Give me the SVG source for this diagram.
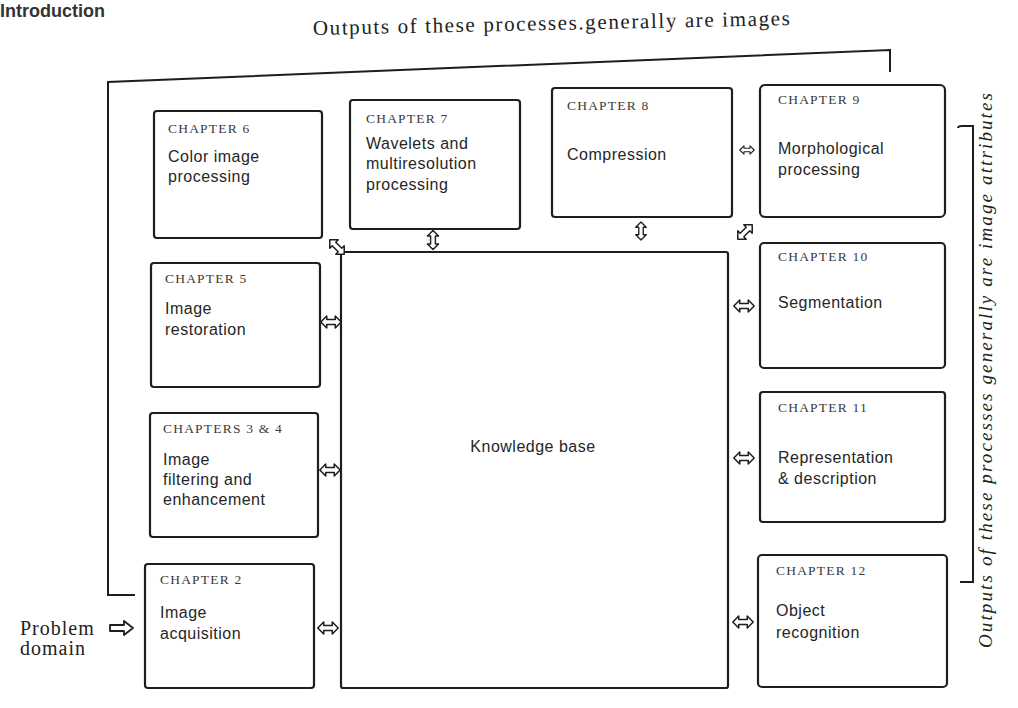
<svg xmlns="http://www.w3.org/2000/svg" width="1018" height="708" viewBox="0 0 1018 708">
  <defs>
    <style>
      .box { fill: #ffffff; stroke: #1e1e1e; stroke-width: 2.2; }
      .chap { font-family: "Liberation Serif", serif; font-size: 13.5px; fill: #3a3a3a; letter-spacing: 1.2px; }
      .lbl { font-family: "Liberation Sans", sans-serif; font-size: 16px; fill: #262626; letter-spacing: 0.5px; }
      .ser { font-family: "Liberation Serif", serif; fill: #222; }
      .brk { fill: none; stroke: #1e1e1e; stroke-width: 2; }
      .arw { fill: #ffffff; stroke: #1e1e1e; stroke-width: 1.8; stroke-linejoin: round; }
    </style>
    <path id="dbl" d="M-12,0 L-5,-7 L-5,-3 L5,-3 L5,-7 L12,0 L5,7 L5,3 L-5,3 L-5,7 Z"/>
    <path id="sgl" d="M-12,-3 L2,-3 L2,-7 L11,0 L2,7 L2,3 L-12,3 Z"/>
  </defs>
  <rect width="1018" height="708" fill="#ffffff"/>

  <text x="0" y="17" font-family="Liberation Sans, sans-serif" font-size="18" font-weight="bold" fill="#333">Introduction</text>

  <g id="brackets">
    <text class="ser" x="313" y="35" font-size="21" textLength="477" lengthAdjust="spacing" transform="rotate(-1.2 313 35)">Outputs of these processes.generally are images</text>
    <path class="brk" d="M135,595 L108,595 L108,82 L890,50 L890,72"/>
    <path class="brk" d="M958,128 Q958,126 962,126 L973,126 L973,582 L960,582"/>
    <text class="ser" x="0" y="0" font-size="19" font-style="italic" textLength="555" lengthAdjust="spacing" transform="translate(992 648) rotate(-90)">Outputs of these processes generally are image attributes</text>
  </g>

  <g id="problem-domain">
    <text class="ser" x="20" y="635" font-size="20" letter-spacing="1">Problem</text>
    <text class="ser" x="20" y="655" font-size="20" letter-spacing="1">domain</text>
  </g>

  <g id="ch6">
    <rect class="box" x="154" y="111" width="168" height="127" rx="3"/>
    <text class="chap" x="168" y="133">CHAPTER 6</text>
    <text class="lbl" x="168" y="162">Color image</text>
    <text class="lbl" x="168" y="182">processing</text>
  </g>
  <g id="ch7">
    <rect class="box" x="350" y="100" width="170" height="129" rx="3"/>
    <text class="chap" x="366" y="123">CHAPTER 7</text>
    <text class="lbl" x="366" y="149">Wavelets and</text>
    <text class="lbl" x="366" y="169">multiresolution</text>
    <text class="lbl" x="366" y="190">processing</text>
  </g>
  <g id="ch8">
    <rect class="box" x="552" y="88" width="180" height="129" rx="3"/>
    <text class="chap" x="567" y="110">CHAPTER 8</text>
    <text class="lbl" x="567" y="160">Compression</text>
  </g>
  <g id="ch9">
    <rect class="box" x="760" y="85" width="185" height="132" rx="5"/>
    <text class="chap" x="778" y="104">CHAPTER 9</text>
    <text class="lbl" x="778" y="154">Morphological</text>
    <text class="lbl" x="778" y="175">processing</text>
  </g>
  <g id="ch5">
    <rect class="box" x="151" y="263" width="169" height="124" rx="3"/>
    <text class="chap" x="165" y="283">CHAPTER 5</text>
    <text class="lbl" x="165" y="314">Image</text>
    <text class="lbl" x="165" y="335">restoration</text>
  </g>
  <g id="ch3-4">
    <rect class="box" x="150" y="413" width="168" height="124" rx="3"/>
    <text class="chap" x="163" y="433">CHAPTERS 3 &amp; 4</text>
    <text class="lbl" x="163" y="465">Image</text>
    <text class="lbl" x="163" y="485">filtering and</text>
    <text class="lbl" x="163" y="505">enhancement</text>
  </g>
  <g id="ch2">
    <rect class="box" x="145" y="564" width="169" height="124" rx="3"/>
    <text class="chap" x="160" y="584">CHAPTER 2</text>
    <text class="lbl" x="160" y="618">Image</text>
    <text class="lbl" x="160" y="639">acquisition</text>
  </g>
  <g id="knowledge-base">
    <rect class="box" x="341" y="252" width="387" height="436" rx="2"/>
    <text class="lbl" x="533" y="452" text-anchor="middle" letter-spacing="1.5">Knowledge base</text>
  </g>
  <g id="ch10">
    <rect class="box" x="760" y="243" width="185" height="125" rx="4"/>
    <text class="chap" x="778" y="261">CHAPTER 10</text>
    <text class="lbl" x="778" y="308">Segmentation</text>
  </g>
  <g id="ch11">
    <rect class="box" x="760" y="392" width="185" height="130" rx="3"/>
    <text class="chap" x="778" y="412">CHAPTER 11</text>
    <text class="lbl" x="778" y="463">Representation</text>
    <text class="lbl" x="778" y="484">&amp; description</text>
  </g>
  <g id="ch12">
    <rect class="box" x="758" y="555" width="189" height="132" rx="4"/>
    <text class="chap" x="776" y="575">CHAPTER 12</text>
    <text class="lbl" x="776" y="616">Object</text>
    <text class="lbl" x="776" y="638">recognition</text>
  </g>

  <g id="connectors">
    <use href="#sgl" class="arw" transform="translate(122 628)"/>
    <use href="#dbl" class="arw" transform="translate(337 247) rotate(45) scale(0.85)"/>
    <use href="#dbl" class="arw" transform="translate(433 240) rotate(90) scale(0.8)"/>
    <use href="#dbl" class="arw" transform="translate(641 231) rotate(90) scale(0.75)"/>
    <use href="#dbl" class="arw" transform="translate(745 232) rotate(-45) scale(0.85)"/>
    <use href="#dbl" class="arw" transform="translate(747 150) scale(0.6)"/>
    <use href="#dbl" class="arw" transform="translate(331 322) scale(0.85)"/>
    <use href="#dbl" class="arw" transform="translate(330 470) scale(0.85)"/>
    <use href="#dbl" class="arw" transform="translate(328 628) scale(0.85)"/>
    <use href="#dbl" class="arw" transform="translate(744 306) scale(0.85)"/>
    <use href="#dbl" class="arw" transform="translate(744 458) scale(0.85)"/>
    <use href="#dbl" class="arw" transform="translate(743 622) scale(0.85)"/>
  </g>
</svg>
